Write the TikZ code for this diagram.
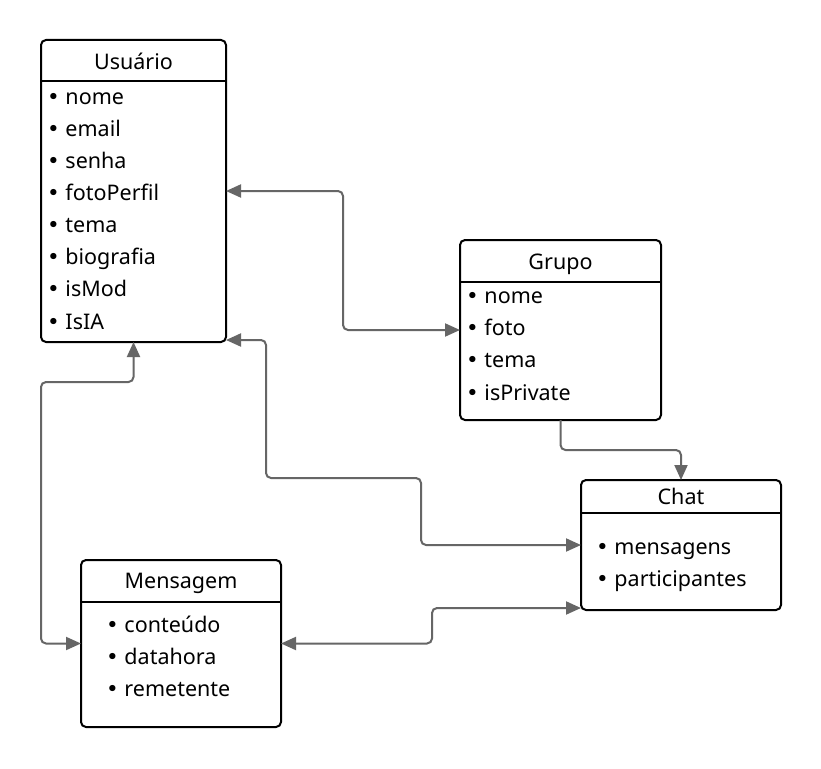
\documentclass[tikz,border=0pt]{standalone}
\usepackage{fontspec}
\setmainfont{Noto Sans}
\newfontfamily\bulfont{DejaVu Sans}
\newcommand{\bul}{{\bulfont •}}
\usetikzlibrary{arrows.meta,calc}
\definecolor{conncol}{HTML}{666666}
\begin{document}
\begin{tikzpicture}[x=1pt,y=-1pt,
  box/.style={draw=black,line width=2pt,rounded corners=5pt,fill=white,inner sep=0pt,outer sep=0pt,anchor=north west},
  divider/.style={draw=black,line width=2pt},
  title/.style={font=\fontsize{21.5pt}{24pt}\selectfont,inner sep=0pt,anchor=base},
  item/.style={font=\fontsize{21.5pt}{24pt}\selectfont,inner sep=0pt,anchor=base west},
  conn/.style={draw=conncol,line width=2pt,rounded corners=5pt},
  tip/.style={-{Triangle[length=15pt,width=13pt]}},
  tips/.style={{Triangle[length=15pt,width=13pt]}-{Triangle[length=15pt,width=13pt]}}
]
\useasboundingbox[fill=white] (0,0) rectangle (821,768);

% Usuario
\node[box,minimum width=185pt,minimum height=302pt] (usu) at (41,40) {};
\draw[divider] (usu.west |- 0,81) -- (usu.east |- 0,81);
\node[title] (usuT) at (133.5,69.3) {Usuário};
\node[item] (u1) at (47,104) {\bul\ nome};
\node[item] (u2) at (47,136.1) {\bul\ email};
\node[item] (u3) at (47,168.3) {\bul\ senha};
\node[item] (u4) at (47,200.4) {\bul\ fotoPerfil};
\node[item] (u5) at (47,232.6) {\bul\ tema};
\node[item] (u6) at (47,264.7) {\bul\ biografia};
\node[item] (u7) at (47,296.9) {\bul\ isMod};
\node[item] (u8) at (47,329) {\bul\ IsIA};

% Grupo
\node[box,minimum width=201pt,minimum height=180pt] (grp) at (460,240) {};
\draw[divider] (grp.west |- 0,282) -- (grp.east |- 0,282);
\node[title] (grpT) at (560.5,269.3) {Grupo};
\node[item] (g1) at (466,303.3) {\bul\ nome};
\node[item] (g2) at (466,335.5) {\bul\ foto};
\node[item] (g3) at (466,367.7) {\bul\ tema};
\node[item] (g4) at (466,400) {\bul\ isPrivate};

% Chat
\node[box,minimum width=200pt,minimum height=130pt] (chat) at (581,480) {};
\draw[divider] (chat.west |- 0,513) -- (chat.east |- 0,513);
\node[title] (chatT) at (681,504) {Chat};
\node[item] (c1) at (596,554) {\bul\ mensagens};
\node[item] (c2) at (596,586) {\bul\ participantes};

% Mensagem
\node[box,minimum width=200pt,minimum height=167pt] (msg) at (81,560) {};
\draw[divider] (msg.west |- 0,602) -- (msg.east |- 0,602);
\node[title] (msgT) at (181,588.7) {Mensagem};
\node[item] (m1) at (106,632.3) {\bul\ conteúdo};
\node[item] (m2) at (106,664.3) {\bul\ datahora};
\node[item] (m3) at (106,696.5) {\bul\ remetente};

% connectors
\coordinate (c1a) at ($(usu.east)!0.5!(grp.west)$);
\draw[conn,tips] (usu.east) -| (c1a) |- (grp.west);

\coordinate (uc) at ($(usu.south east)+(0,-2)$);
\draw[conn,tips] (uc) -| (266,478) -| (421,545) -- (chat.west);

\draw[conn,tips] (usu.south) |- (41,382) |- (msg.west);

\draw[conn,tip] (grp.south) |- (681,450) -- (chat.north);

\coordinate (mc) at ($(chat.south west)+(0,-2)$);
\draw[conn,tips] (msg.east) -| (432,608) -- (mc);
\end{tikzpicture}
\end{document}
